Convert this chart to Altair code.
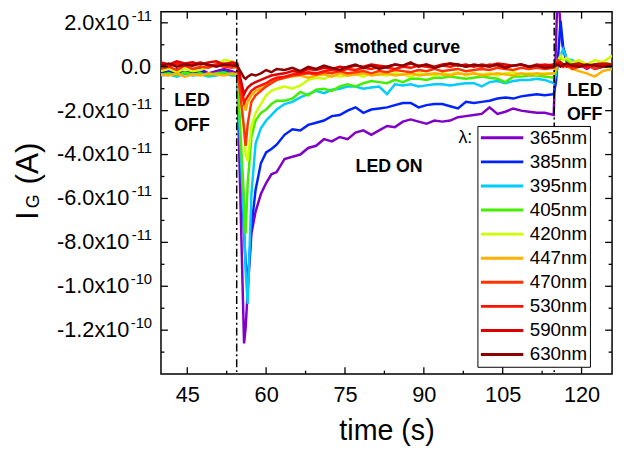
import altair as alt
import pandas as pd

# ---------------- data (current in units of 1e-11 A) ----------------
time_s = [40, 41.5, 43, 44.5, 46, 47.5, 49, 50.5, 52, 53.5,
          54.5, 55.8, 56.1, 56.5, 57.2, 58, 59, 60, 61, 62,
          63.5, 65, 66.5, 68, 69.5, 71, 72.5, 74, 75.5, 77,
          78.5, 80, 81.5, 83, 84.5, 86, 87.5, 89, 90.5, 92,
          93.5, 95, 96.5, 98, 99.5, 101, 102.5, 104, 105.5, 107,
          108.5, 110, 111.5, 113, 114.7, 115.1, 115.5, 116.0, 116.5, 117.2,
          118.2, 119.5, 121, 122.5, 124, 125.8]

i365 = [-0.2, -0.3, -0.1, -0.3, -0.2, -0.1, -0.3, -0.2, -0.1, -0.2,
        -0.3, -12.6, -11.9, -10.2, -7.6, -6.6, -5.8, -5.3, -4.9, -4.8,
        -4.2, -4.1, -4.0, -3.7, -3.6, -3.3, -3.4, -3.2, -3.3, -3.0,
        -2.9, -3.1, -2.9, -2.7, -2.75, -2.5, -2.4, -2.5, -2.6, -2.45,
        -2.5, -2.45, -2.3, -2.25, -2.2, -2.15, -1.85, -2.15, -2.05, -1.9,
        -2.0, -2.05, -2.1, -2.1, -2.2, 0.8, 4.0, 1.6, 0.8, 0.2,
        0.0, 0.1, -0.1, 0.1, 0.0, 0.1]
i385 = [-0.3, -0.2, -0.35, -0.25, -0.3, -0.2, -0.35, -0.3, -0.2, -0.3,
        -0.3, -7.6, -8.9, -9.9, -7.3, -5.6, -4.4, -3.9, -3.75, -3.55,
        -3.1, -2.85, -2.9, -2.65, -2.55, -2.45, -2.25, -2.2, -2.0, -1.85,
        -2.1, -1.95, -1.9, -1.85, -1.75, -1.65, -1.65, -1.85, -1.75, -1.7,
        -1.7, -1.8, -1.9, -1.6, -1.65, -1.6, -1.55, -1.45, -1.4, -1.45,
        -1.35, -1.3, -1.25, -1.3, -1.25, -0.75, 0.3, 2.1, 0.9, 0.3,
        0.1, 0.0, 0.1, -0.1, 0.0, 0.1]
i395 = [-0.4, -0.35, -0.45, -0.3, -0.4, -0.35, -0.45, -0.4, -0.3, -0.4,
        -0.4, -7.2, -9.3, -10.8, -5.8, -3.5, -2.8, -2.45, -2.2, -1.95,
        -1.7, -1.6, -1.4, -1.25, -1.1, -1.2, -1.05, -1.0, -0.9, -0.9,
        -1.0, -0.95, -0.9, -1.25, -0.8, -0.85, -0.8, -0.9, -0.85, -0.8,
        -0.8, -0.85, -0.8, -0.75, -0.75, -0.9, -0.7, -0.65, -0.75, -0.65,
        -0.6, -0.6, -0.55, -0.6, -0.75, -0.35, 0.1, 0.5, 0.8, 0.35,
        0.3, 0.1, 0.0, 0.1, 0.0, 0.0]
i405 = [-0.35, -0.3, -0.4, -0.25, -0.35, -0.3, -0.4, -0.3, -0.25, -0.35,
        -0.35, -6.0, -7.6, -5.3, -3.2, -2.45, -2.1, -1.95, -1.7, -1.55,
        -1.55, -1.45, -1.15, -1.3, -1.05, -1.0, -1.1, -0.9, -0.8, -0.9,
        -0.75, -0.65, -0.7, -0.75, -0.6, -0.7, -0.55, -0.55, -0.6, -0.5,
        -0.5, -0.45, -0.5, -0.55, -0.5, -0.45, -0.5, -0.55, -0.7, -0.45,
        -0.45, -0.4, -0.4, -0.45, -0.5, -0.2, 0.2, 0.4, 0.35, 0.3,
        0.1, 0.2, 0.0, 0.1, 0.2, 0.1]
i420 = [-0.2, -0.1, -0.25, -0.1, -0.2, -0.15, 0.0, 0.1, 0.3, 0.25,
        0.0, -3.0, -4.0, -4.3, -2.7, -2.1, -1.7, -1.3, -1.1, -1.0,
        -0.9, -1.0, -0.85, -0.6, -0.5, -0.55, -0.4, -0.45, -0.4, -0.35,
        -0.45, -0.3, -0.35, -0.4, -0.3, -0.35, -0.45, -0.3, -0.35, -0.4,
        -0.3, -0.35, -0.25, -0.4, -0.3, -0.35, -0.3, -0.4, -0.3, -0.25,
        -0.35, -0.3, -0.35, -0.3, -0.3, 0.0, 0.3, 0.5, 0.3, 0.4,
        0.2, 0.3, 0.1, 0.3, 0.2, 0.5]
i447 = [-0.35, -0.4, -0.3, -0.45, -0.35, -0.4, -0.3, -0.35, -0.4, -0.3,
        -0.35, -1.6, -2.0, -1.6, -1.3, -1.1, -1.0, -0.85, -0.7, -0.6,
        -0.5, -0.45, -0.4, -0.5, -0.4, -0.35, -0.45, -0.3, -0.4, -0.35,
        -0.3, -0.4, -0.35, -0.3, -0.4, -0.35, -0.3, -0.4, -0.35, -0.3,
        -0.35, -0.4, -0.3, -0.35, -0.3, -0.4, -0.35, -0.3, -0.35, -0.4,
        -0.3, -0.35, -0.3, -0.35, -0.3, -0.1, 0.1, 0.2, 0.1, 0.0,
        -0.1, -0.2, -0.3, -0.45, -0.2, -0.1]
i470 = [-0.1, 0.0, -0.15, 0.05, -0.1, 0.0, -0.05, 0.1, 0.0, -0.05,
        0.0, -2.8, -3.6, -2.6, -1.6, -1.3, -1.1, -0.9, -0.75, -0.6,
        -0.5, -0.4, -0.35, -0.3, -0.35, -0.25, -0.3, -0.2, -0.3, -0.25,
        -0.2, -0.3, -0.2, -0.25, -0.15, -0.2, -0.25, -0.15, -0.2, -0.1,
        -0.2, -0.15, -0.1, -0.2, -0.15, -0.1, -0.15, -0.05, -0.1, -0.15,
        -0.05, -0.1, -0.05, -0.1, -0.05, 0.1, 0.3, 0.2, 0.0, 0.1,
        -0.1, 0.0, 0.1, -0.1, 0.0, 0.1]
i530 = [0.1, 0.0, 0.15, 0.05, 0.1, 0.2, 0.05, 0.1, 0.15, 0.1,
        0.1, -1.65, -1.5, -1.35, -1.1, -0.95, -0.85, -0.75, -0.6, -0.5,
        -0.45, -0.35, -0.3, -0.25, -0.3, -0.2, -0.15, -0.2, -0.1, -0.15,
        -0.05, -0.1, 0.0, -0.05, -0.1, 0.0, -0.05, 0.05, 0.0, -0.05,
        0.05, 0.0, 0.1, 0.0, 0.05, 0.0, 0.1, 0.05, 0.0, 0.05,
        0.1, 0.0, 0.05, 0.1, 0.05, 0.1, 0.2, 0.1, 0.0, 0.1,
        0.0, 0.1, -0.05, 0.1, 0.0, 0.05]
i590 = [0.2, 0.1, 0.25, 0.15, 0.2, 0.1, 0.2, 0.25, 0.1, 0.2,
        0.15, -1.25, -1.1, -0.95, -0.8, -0.7, -0.6, -0.5, -0.4, -0.35,
        -0.3, -0.2, -0.25, -0.1, -0.15, -0.05, -0.1, 0.0, -0.05, 0.05,
        0.0, 0.1, 0.05, 0.0, 0.1, 0.05, 0.15, 0.05, 0.1, 0.0,
        0.1, 0.15, 0.05, 0.1, 0.0, 0.1, 0.05, 0.15, 0.1, 0.05,
        0.1, 0.0, 0.1, 0.05, 0.1, 0.15, 0.1, 0.2, 0.1, 0.0,
        0.1, 0.15, 0.05, 0.1, 0.15, 0.1]
i630 = [0.05, 0.15, 0.0, 0.1, 0.05, 0.15, 0.1, 0.0, 0.1, 0.05,
        0.05, -0.5, -0.55, -0.45, -0.35, -0.4, -0.3, -0.15, -0.25, -0.1,
        -0.15, -0.05, -0.2, 0.0, -0.1, 0.05, -0.05, -0.15, 0.0, 0.1,
        -0.05, 0.05, -0.1, 0.0, 0.1, 0.05, 0.2, 0.0, 0.1, -0.05,
        0.05, 0.15, 0.1, 0.0, 0.1, 0.05, 0.0, 0.1, -0.05, 0.05,
        0.1, 0.0, 0.05, -0.05, 0.0, 0.05, 0.1, 0.0, 0.1, 0.15,
        0.05, 0.0, 0.1, 0.05, 0.0, 0.05]

wavelengths = ["365nm", "385nm", "395nm", "405nm", "420nm",
               "447nm", "470nm", "530nm", "590nm", "630nm"]
colors = ["#8000c8", "#0022ff", "#00ccff", "#44ee00", "#ccff00",
          "#ffb000", "#ff3300", "#ff1100", "#dd0000", "#8b0000"]
series = [i365, i385, i395, i405, i420, i447, i470, i530, i590, i630]

led_switch_s = [54.4, 114.8]

x_major = [45, 60, 75, 90, 105, 120]
x_minor = [52.5, 67.5, 82.5, 97.5, 112.5]
y_major_units = [-12, -10, -8, -6, -4, -2, 0, 2]
y_minor_units = [-13, -11, -9, -7, -5, -3, -1, 1]
# y tick labels: mantissa part and exponent part
y_label_base = ["-1.2x10", "-1.0x10", "-8.0x10", "-6.0x10",
                "-4.0x10", "-2.0x10", "0.0", "2.0x10"]
y_label_exp = ["-10", "-10", "-11", "-11", "-11", "-11", "", "-11"]

annot_text = ["smothed curve", "LED ON", "LED", "OFF", "LED", "OFF"]
annot_t = [84.9, 83.4, 45.9, 45.9, 120.6, 120.6]
annot_units = [0.85, -4.57, -1.57, -2.7, -1.13, -2.2]

UNIT = 1e-11
FONT = "Liberation Sans"
W, H = 457, 367

rows = []
for name, vals in zip(wavelengths, series):
    assert len(vals) == len(time_s), name
    for t, v in zip(time_s, vals):
        rows.append({"t": t, "I": v * UNIT, "wl": name})
df = pd.DataFrame(rows)

x_scale = alt.Scale(domain=[40, 125.8], nice=False, zero=False)
y_scale = alt.Scale(domain=[-14 * UNIT, 2.5 * UNIT], nice=False, zero=False)

x_axis = alt.Axis(values=x_major, title="time (s)", titleFontSize=29,
                  titleFontWeight="normal", titlePadding=11,
                  labelPadding=11, labelFontSize=22)
y_axis = alt.Axis(values=[u * UNIT for u in y_major_units],
                  labels=False, title=None)


def X(field="t:Q"):
    return alt.X(field, scale=x_scale, axis=x_axis, title="time (s)")


def Y(field="I:Q"):
    return alt.Y(field, scale=y_scale, axis=y_axis, title=None)


lines = alt.Chart(df).mark_line(strokeWidth=2.5, clip=True).encode(
    x=X(), y=Y(),
    color=alt.Color("wl:N", sort=wavelengths,
                    scale=alt.Scale(domain=wavelengths, range=colors),
                    legend=alt.Legend(title=None, orient="none",
                                      legendX=320.6, legendY=115.6,
                                      symbolType="stroke", symbolSize=1849,
                                      symbolStrokeWidth=3, clipHeight=20,
                                      rowPadding=4.4, labelFontSize=19,
                                      labelFont=FONT, labelColor="black",
                                      labelOffset=5, padding=2,
                                      strokeColor="black", fillColor="white",
                                      labelLimit=0)),
)

switch = alt.Chart(pd.DataFrame({"t": led_switch_s})).mark_rule(
    color="black", strokeWidth=1.5, strokeDash=[8, 3, 2, 3]
).encode(x=X())


def xticks(vals, length):
    d = pd.DataFrame({"t": vals})
    bot = alt.Chart(d).mark_rule(color="black", strokeWidth=1.3).encode(
        x=X(), y=alt.value(H), y2=alt.value(H - length))
    top = alt.Chart(d).mark_rule(color="black", strokeWidth=1.3).encode(
        x=X(), y=alt.value(0), y2=alt.value(length))
    return [bot, top]


def yticks(units, length):
    d = pd.DataFrame({"I": [u * UNIT for u in units]})
    left = alt.Chart(d).mark_rule(color="black", strokeWidth=1.3).encode(
        y=Y(), x=alt.value(0), x2=alt.value(length))
    right = alt.Chart(d).mark_rule(color="black", strokeWidth=1.3).encode(
        y=Y(), x=alt.value(W), x2=alt.value(W - length))
    return [left, right]


tick_layers = (xticks(x_major, 7) + xticks(x_minor, 3.5)
               + yticks(y_major_units, 7) + yticks(y_minor_units, 3.5))

# y tick labels with superscript exponents
ylab_df = pd.DataFrame({"I": [u * UNIT for u in y_major_units],
                        "base": y_label_base, "exp": y_label_exp})
ylab_base = alt.Chart(ylab_df).transform_filter("datum.exp != ''").mark_text(
    font=FONT, fontSize=22, align="right", baseline="middle", color="black"
).encode(y=Y(), x=alt.value(-32), text="base:N")
ylab_zero = alt.Chart(ylab_df).transform_filter("datum.exp == ''").mark_text(
    font=FONT, fontSize=22, align="right", baseline="middle", color="black"
).encode(y=Y(), x=alt.value(-10), text="base:N")
ylab_exp = alt.Chart(ylab_df).transform_filter("datum.exp != ''").mark_text(
    font=FONT, fontSize=15, align="right", baseline="middle", color="black",
    dy=-7
).encode(y=Y(), x=alt.value(-9), text="exp:N")

annot_df = pd.DataFrame({"t": annot_t, "I": [u * UNIT for u in annot_units],
                         "txt": annot_text})
annots = alt.Chart(annot_df).mark_text(
    font=FONT, fontSize=18, fontWeight="bold", color="black", baseline="middle"
).encode(x=X(), y=Y(), text="txt:N")

lam = alt.Chart(pd.DataFrame({"t": [97.9], "I": [-3.25 * UNIT],
                              "txt": ["\u03bb:"]})).mark_text(
    font=FONT, fontSize=18, color="black", baseline="middle"
).encode(x=X(), y=Y(), text="txt:N")

# y-axis title  I_G (A)
title_parts = ["I", "G", "(A)"]
title_sizes = [32, 18, 32]
title_x = [38 - 163, 39 - 163, 38 - 163]
title_y = [220 - 9, 208 - 9, 184 - 9]
ytitle = [
    alt.Chart(pd.DataFrame({"s": [p]})).mark_text(
        font=FONT, fontSize=fs, angle=270, align="left", baseline="alphabetic",
        color="black"
    ).encode(text="s:N", x=alt.value(xx), y=alt.value(yy))
    for p, fs, xx, yy in zip(title_parts, title_sizes, title_x, title_y)
]

chart = alt.layer(lines, switch, *tick_layers, ylab_base, ylab_zero, ylab_exp,
                  annots, lam, *ytitle).properties(
    width=W, height=H,
    padding={"left": 155, "top": 1, "right": 4, "bottom": 73},
    autosize=alt.AutoSizeParams(type="none"),
).configure_view(
    stroke="black", strokeWidth=1.5
).configure_axis(
    grid=False, ticks=False, tickSize=0, domain=False,
    labelFont=FONT, titleFont=FONT, labelColor="black", titleColor="black"
)

chart.save("out.html", embed_options={"renderer": "svg", "actions": False})
